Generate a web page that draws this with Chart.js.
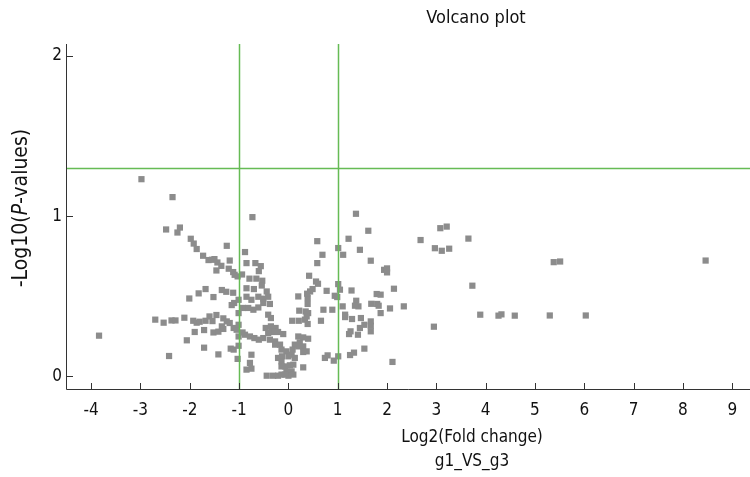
<!DOCTYPE html>
<html>
<head>
<meta charset="utf-8">
<script src="https://cdn.jsdelivr.net/npm/chart.js@4"></script>
<style>
  html, body { margin: 0; padding: 0; background: #fff; }
  #wrap { width: 750px; height: 477px; position: relative; }
</style>
</head>
<body>
<div id="wrap"><canvas id="volcano"></canvas></div>
<script>
// log2 fold change / -log10 p for each gene
const log2FC = [
  -2.98, -2.35, -2.48, -2.20, -2.25, -1.98, -1.92, -1.86, -1.25, -1.73,
  -1.62, -1.55, -1.50, -1.44, -1.36, -1.46, -1.19, -1.21, -1.12, -1.09,
  -1.03, -2.01, -1.82, -1.68, -1.52, -1.35, -1.26, -1.12, -1.10, -1.15,
  -2.70, -2.53, -2.37, -2.29, -2.11, -1.93, -1.86, -1.80, -1.68, -1.60,
  -1.54, -1.46, -1.32, -1.35, -1.25, -1.19, -1.11, -1.05, -3.84, -2.06,
  -1.90, -1.71, -1.52, -1.42, -1.32, -2.42, -1.71, -1.42, -1.17, -1.11,
  -1.03, -1.01, -1.01, -1.01, -1.01, -1.01, -0.92, -0.93,
  -0.73, -0.88, -0.85, -0.67, -0.56, -0.60, -0.79, -0.65, -0.53, -0.94,
  -0.85, -0.70, -0.54, -0.44,
  -0.85, -0.75, -0.61, -0.51, -0.41, -0.375, -0.815, -0.71, -0.61, -0.51,
  -0.41, -0.355, 0.20, 0.39, 0.39, 0.22, 0.35, 0.40, 0.37, 0.335,
  0.39, 0.077, 0.21, 0.71, 0.89, 0.66, -0.46, -0.355, -0.26, -0.21,
  -0.105, -0.33, -0.41, -0.88, -0.78, -0.69, -0.60, -0.51, -0.375, -0.27,
  -0.27, -0.17, 0.20, 0.30, 0.40, 0.23, 0.13, 0.20, 0.30, 0.085,
  0.30, 0.37, -0.75, -0.14, -0.04, -0.13, -0.21, -0.14, 0.00, 0.065,
  -0.78, -0.85, -0.75, -0.14, -0.07, 0.03, 0.10, -0.04, 0.065, 0.10,
  0.00, -0.07, -0.44, -0.31, -0.21, -0.14, 0.30, 0.13, 0.74, 0.795,
  0.92,
  1.37, 1.62, 0.585, 1.22, 1.01, 1.45, 0.69, 1.11, 0.585, 1.67,
  1.94, 2.00, 2.00, 2.68, 0.42, 0.56, 0.60, 1.01, 0.49, 0.44,
  0.38, 0.775, 0.94, 0.99, 1.045, 1.28, 2.14, 1.79, 1.87,
  1.375, 1.42, 1.35, 1.10, 1.68, 1.80, 1.83, 2.06, 2.34, 1.87,
  1.15, 1.15, 1.29, 1.47, 1.67, 1.67, 1.67, 1.54, 1.45, 1.26,
  1.23, 1.41, 1.54, 1.25, 1.33, 1.01, 2.11,
  2.95, 2.97, 3.08, 3.21, 3.11, 3.26, 3.65, 3.73, 3.89, 4.26,
  4.32, 4.59, 5.30, 5.38, 5.51, 6.03, 8.46
];
const negLog10P = [
  1.231, 1.119, 0.917, 0.929, 0.898, 0.859, 0.829, 0.795, 0.815, 0.753,
  0.726, 0.728, 0.732, 0.711, 0.690, 0.661, 0.723, 0.672, 0.651, 0.634,
  0.624, 0.486, 0.518, 0.545, 0.495, 0.539, 0.528, 0.522, 0.458, 0.445,
  0.354, 0.335, 0.349, 0.349, 0.366, 0.347, 0.335, 0.341, 0.347, 0.374,
  0.345, 0.383, 0.362, 0.312, 0.343, 0.333, 0.302, 0.291, 0.254, 0.225,
  0.277, 0.289, 0.274, 0.279, 0.296, 0.127, 0.179, 0.137, 0.173, 0.167,
  0.109, 0.478, 0.395, 0.322, 0.249, 0.191, 0.427, 0.274,
  0.994, 0.776, 0.707, 0.707, 0.688, 0.657, 0.610, 0.610, 0.597, 0.636,
  0.550, 0.545, 0.567, 0.530,
  0.497, 0.478, 0.497, 0.485, 0.497, 0.452, 0.427, 0.416, 0.430, 0.458,
  0.385, 0.364, 0.499, 0.489, 0.452, 0.410, 0.405, 0.395, 0.374, 0.354,
  0.327, 0.347, 0.347, 0.416, 0.416, 0.347, 0.302, 0.312, 0.302, 0.277,
  0.264, 0.277, 0.271, 0.260, 0.249, 0.239, 0.229, 0.239, 0.229, 0.218,
  0.198, 0.198, 0.249, 0.243, 0.235, 0.212, 0.198, 0.187, 0.187, 0.167,
  0.152, 0.156, 0.135, 0.167, 0.156, 0.125, 0.115, 0.094, 0.125, 0.135,
  0.084, 0.042, 0.048, 0.062, 0.062, 0.069, 0.073, 0.031, 0.031, 0.011,
  0.004, 0.011, 0.004, 0.004, 0.004, 0.011, 0.056, 0.115, 0.115, 0.131,
  0.098,
  1.015, 0.909, 0.844, 0.859, 0.801, 0.790, 0.759, 0.759, 0.707, 0.722,
  0.665, 0.674, 0.649, 0.851, 0.628, 0.592, 0.578, 0.576, 0.545, 0.530,
  0.516, 0.534, 0.503, 0.495, 0.541, 0.536, 0.547, 0.514, 0.510,
  0.472, 0.437, 0.441, 0.437, 0.453, 0.452, 0.441, 0.424, 0.437, 0.395,
  0.385, 0.370, 0.358, 0.364, 0.343, 0.316, 0.281, 0.322, 0.302, 0.281,
  0.264, 0.260, 0.173, 0.133, 0.148, 0.125, 0.090,
  0.310, 0.800, 0.925, 0.935, 0.784, 0.797, 0.860, 0.566, 0.385, 0.379,
  0.387, 0.379, 0.380, 0.713, 0.717, 0.380, 0.723
];

const xTicks = [-4, -3, -2, -1, 0, 1, 2, 3, 4, 5, 6, 7, 8, 9];
const yTicks = [0, 1, 2];
const fcCutoffs = [-1, 1];
const pCutoff = 1.3;

const FONT = "'DejaVu Sans Condensed', 'DejaVu Sans', sans-serif";
const points = log2FC.map((x, i) => ({ x: x, y: negLog10P[i] }));

// cutoff lines, inward tick marks and the titles
const decorations = {
  id: 'decorations',
  afterDatasetsDraw(chart) {
    const { ctx, chartArea: a, scales: { x, y } } = chart;
    ctx.save();
    ctx.strokeStyle = '#66bb55';
    ctx.lineWidth = 1.5;
    fcCutoffs.forEach((v) => {
      const px = Math.round(x.getPixelForValue(v)) + 0.5;
      ctx.beginPath();
      ctx.moveTo(px, a.top);
      ctx.lineTo(px, a.bottom);
      ctx.stroke();
    });
    const py = Math.round(y.getPixelForValue(pCutoff)) + 0.5;
    ctx.beginPath();
    ctx.moveTo(a.left, py);
    ctx.lineTo(a.right, py);
    ctx.stroke();
    ctx.restore();
  },
  afterDraw(chart) {
    const { ctx, chartArea: a, scales: { x, y } } = chart;
    ctx.save();
    // axis lines
    ctx.strokeStyle = '#333';
    ctx.lineWidth = 1;
    ctx.beginPath();
    ctx.moveTo(a.left + 0.5, a.top);
    ctx.lineTo(a.left + 0.5, a.bottom + 0.5);
    ctx.lineTo(a.right, a.bottom + 0.5);
    ctx.stroke();
    // ticks point into the plot
    ctx.beginPath();
    xTicks.forEach((v) => {
      const px = Math.round(x.getPixelForValue(v)) + 0.5;
      ctx.moveTo(px, a.bottom);
      ctx.lineTo(px, a.bottom - 6);
    });
    yTicks.forEach((v) => {
      const py = Math.round(y.getPixelForValue(v)) + 0.5;
      ctx.moveTo(a.left, py);
      ctx.lineTo(a.left + 7, py);
    });
    ctx.stroke();

    ctx.fillStyle = '#111';
    ctx.textAlign = 'center';
    ctx.textBaseline = 'middle';
    ctx.font = '18px ' + FONT;
    ctx.fillText('Volcano plot', 476, 18);
    ctx.font = '17px ' + FONT;
    ctx.fillText('Log2(Fold change)', 472, 438);
    ctx.fillText('g1_VS_g3', 472, 462);

    // y title with italic P
    const parts = [['-Log10(', ''], ['P', 'italic '], ['-values)', '']];
    ctx.translate(22, 208);
    ctx.rotate(-Math.PI / 2);
    let total = 0;
    parts.forEach((p) => {
      ctx.font = p[1] + '21px ' + FONT;
      total += ctx.measureText(p[0]).width;
    });
    let cx = -total / 2;
    ctx.textAlign = 'left';
    parts.forEach((p) => {
      ctx.font = p[1] + '21px ' + FONT;
      ctx.fillText(p[0], cx, 0);
      cx += ctx.measureText(p[0]).width;
    });
    ctx.restore();
  }
};

new Chart(document.getElementById('volcano'), {
  type: 'scatter',
  data: {
    datasets: [{
      data: points,
      pointStyle: 'rect',
      pointRadius: 4.4,
      pointHoverRadius: 4.4,
      pointBorderWidth: 0,
      backgroundColor: '#8c8c8c',
      borderColor: '#8c8c8c',
    }],
  },
  options: {
    responsive: true,
    maintainAspectRatio: false,
    animation: false,
    layout: { autoPadding: false, padding: { top: 44, right: 0, bottom: 0, left: 0 } },
    plugins: { legend: { display: false }, tooltip: { enabled: false }, title: { display: false } },
    scales: {
      x: {
        type: 'linear',
        min: -4.51,
        max: 9.36,
        afterBuildTicks: (s) => { s.ticks = xTicks.map((v) => ({ value: v })); },
        afterFit: (s) => { s.height = 88; s.paddingLeft = 0; s.paddingRight = 0; },
        grid: { display: false, drawTicks: false },
        border: { display: false },
        ticks: { color: '#111', font: { family: FONT, size: 17 }, padding: 11 },
      },
      y: {
        type: 'linear',
        min: -0.079,
        max: 2.075,
        afterBuildTicks: (s) => { s.ticks = yTicks.map((v) => ({ value: v })); },
        afterFit: (s) => { s.width = 66; },
        grid: { display: false, drawTicks: false },
        border: { display: false },
        ticks: { color: '#111', font: { family: FONT, size: 17 }, padding: 4 },
      },
    },
  },
  plugins: [decorations],
});
</script>
</body>
</html>
